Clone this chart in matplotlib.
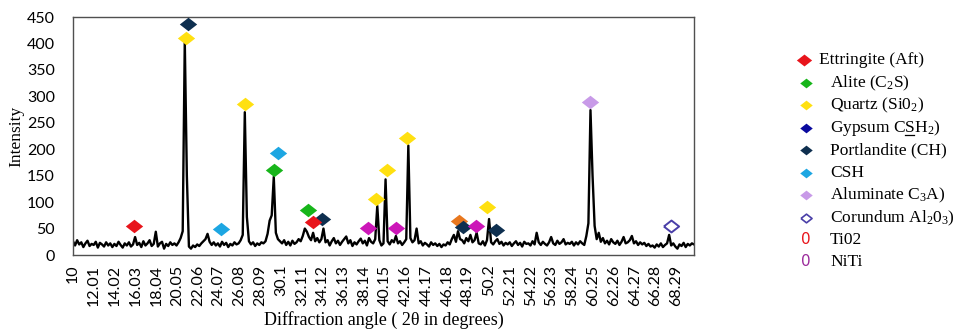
import numpy as np
import matplotlib
matplotlib.use("Agg")
import matplotlib.pyplot as plt

plt.rcParams['mathtext.fontset'] = 'custom'
plt.rcParams['mathtext.rm'] = 'Liberation Serif'
plt.rcParams['mathtext.it'] = 'Liberation Serif:italic'

# XRD trace, one value every 0.2 degrees from 10.0 to 70.0 (one row = 2 degrees)
intensity = [
    26, 18, 28, 20, 24, 15, 22, 27, 17, 21,     # 10
    19, 25, 14, 23, 20, 16, 24, 18, 22, 15,     # 12
    21, 17, 25, 19, 14, 22, 18, 24, 16, 20,     # 14
    34, 19, 23, 15, 26, 18, 22, 28, 17, 21,     # 16
    44, 16, 22, 25, 12, 21, 17, 24, 19, 22,     # 18
    18, 24, 32, 45, 405, 150, 16, 12, 18, 15,   # 20
    20, 17, 22, 26, 30, 40, 25, 19, 24, 18,     # 22
    22, 16, 25, 19, 23, 15, 21, 18, 24, 20,     # 24
    22, 28, 38, 270, 72, 26, 20, 24, 17, 22,    # 26
    19, 24, 22, 26, 40, 65, 75, 148, 42, 30,    # 28
    26, 22, 28, 19, 25, 18, 27, 21, 24, 30,     # 30
    26, 36, 50, 44, 34, 28, 42, 26, 32, 24,     # 32
    30, 50, 24, 28, 18, 26, 32, 22, 27, 19,     # 34
    25, 30, 35, 22, 28, 17, 24, 20, 26, 31,     # 36
    22, 27, 18, 32, 25, 22, 30, 93, 28, 18,     # 38
    22, 143, 26, 20, 28, 24, 36, 22, 26, 19,    # 40
    24, 30, 207, 32, 24, 28, 50, 22, 26, 18,    # 42
    23, 20, 16, 24, 19, 22, 17, 21, 15, 20,     # 44
    18, 24, 20, 30, 38, 25, 45, 30, 28, 22,     # 46
    32, 26, 38, 24, 28, 42, 22, 20, 26, 18,     # 48
    28, 68, 24, 20, 26, 30, 21, 25, 18, 23,     # 50
    20, 24, 17, 22, 26, 19, 23, 16, 25, 21,     # 52
    22, 18, 26, 20, 42, 24, 19, 25, 21, 18,     # 54
    24, 34, 22, 19, 27, 21, 24, 30, 20, 23,     # 56
    21, 25, 18, 24, 20, 26, 22, 19, 36, 60,     # 58
    274, 150, 55, 30, 42, 25, 32, 22, 27, 20,   # 60
    30, 24, 21, 27, 19, 25, 34, 22, 24, 28,     # 62
    36, 22, 26, 19, 24, 20, 23, 17, 21, 16,     # 64
    18, 14, 20, 16, 22, 15, 19, 22, 38, 18,     # 66
    22, 16, 12, 20, 17, 23, 15, 21, 18, 22,     # 68
    20,
]
angle = np.linspace(10.0, 70.0, len(intensity))

tick_labels = ['10', '12.01', '14.02', '16.03', '18.04', '20.05', '22.06', '24.07',
               '26.08', '28.09', '30.1', '32.11', '34.12', '36.13', '38.14', '40.15',
               '42.16', '44.17', '46.18', '48.19', '50.2', '52.21', '54.22', '56.23',
               '58.24', '60.25', '62.26', '64.27', '66.28', '68.29']

# phase markers (angle, intensity)
ettringite_x, ettringite_y = [15.9, 33.2], [55, 63]
alite_x, alite_y = [29.4, 32.7], [160, 85]
quartz_x, quartz_y = [20.9, 26.6, 39.3, 40.3, 42.3, 50.0], [410, 285, 106, 160, 222, 90]
portlandite_x, portlandite_y = [21.1, 34.1, 47.7, 50.9], [437, 68, 53, 47]
csh_x, csh_y = [24.3, 29.8], [50, 193]
aluminate_x, aluminate_y = [60.0], [290]
corundum_x, corundum_y = [67.8], [54]
niti_x, niti_y = [38.5, 41.2, 48.9], [52, 52, 55]
tio2_x, tio2_y = [47.3], [64]

diamond = [(-1, 0), (0, 0.78), (1, 0), (0, -0.78), (-1, 0)]

fig = plt.figure(figsize=(9.58, 3.31), dpi=100)
ax = fig.add_axes([0.0762, 0.2296, 0.6482, 0.719])

ax.plot(angle, intensity, color='black', lw=1.7, zorder=2)

def pts(x, y, color, z, ms=12.5, face=None, mew=0):
    ax.plot(x, y, ls='none', marker=diamond, ms=ms, color=color,
            mfc=face if face else color, mec=color, mew=mew, zorder=z, clip_on=False)

pts(tio2_x, tio2_y, '#E8771E', 3)
pts(portlandite_x, portlandite_y, '#0E2F4F', 4)
pts(alite_x, alite_y, '#17B51A', 4)
pts(ettringite_x, ettringite_y, '#E8141B', 5)
pts(quartz_x, quartz_y, '#FFE010', 5)
pts(csh_x, csh_y, '#1DA6E2', 5)
pts(aluminate_x, aluminate_y, '#C89AE8', 5)
pts(niti_x, niti_y, '#CC16B8', 5)
pts(corundum_x, corundum_y, '#4A3FA8', 5, ms=11, face='white', mew=1.4)

ax.set_xlim(10, 70)
ax.set_ylim(0, 450)
ax.set_yticks(np.arange(0, 451, 50))
ax.set_xticks([float(t) for t in tick_labels])
ax.set_xticklabels(tick_labels, rotation=90)
ax.tick_params(length=0, labelsize=11.5)
ax.tick_params(axis='x', pad=7)
ax.tick_params(axis='y', pad=13)
for lab in ax.get_xticklabels() + ax.get_yticklabels():
    lab.set_family('Lato')
for s in ax.spines.values():
    s.set_color('#505050')
    s.set_linewidth(1.0)

ax.set_xlabel('Diffraction angle ( 2θ in degrees)', family='Liberation Serif',
              fontsize=13, labelpad=4)
ax.set_ylabel('Intensity', family='Liberation Serif', fontsize=12.5, labelpad=2)

# legend drawn by hand in pixel coordinates
lax = fig.add_axes([0, 0, 1, 1])
lax.set_xlim(0, 958)
lax.set_ylim(331, 0)
lax.axis('off')

entries = [
    ('Ettringite (Aft)', '#E8141B', 'filled', 60),
    ('Alite (C$_2$S)', '#17B51A', 'filled', 83),
    ('Quartz (Si0$_2$)', '#FFE010', 'filled', 105),
    ('Gypsum CSH$_2$)', '#0A0A9E', 'filled', 128),
    ('Portlandite (CH)', '#0E2F4F', 'filled', 150),
    ('CSH', '#1DA6E2', 'filled', 173),
    ('Aluminate C$_3$A)', '#C89AE8', 'filled', 195),
    ('Corundum Al$_2$0$_3$)', '#4A3FA8', 'hollow', 218),
    ('Ti02', '#E8141B', 'zero', 240),
    ('NiTi', '#9B2A9B', 'zero', 262),
]
renderer = fig.canvas.get_renderer()
for i, (name, col, kind, yy) in enumerate(entries):
    mx = 804 if i == 0 else 806
    tx = 819 if i == 0 else 830
    if kind == 'filled':
        lax.plot([mx], [yy], marker=diamond, ms=11 if i == 0 else 9, color=col, mew=0)
    elif kind == 'hollow':
        lax.plot([mx], [yy], marker=diamond, ms=8, mfc='white', mec=col, mew=1.2)
    else:
        lax.text(mx, yy, '0', color=col, fontsize=11, ha='center', va='center',
                 family='DejaVu Sans')
    t = lax.text(tx, yy, name, fontsize=12.5, va='center', family='Liberation Serif')
    if i == 3:
        # underline the S of CSH2
        inv = lax.transData.inverted()
        a = lax.text(tx, yy, 'Gypsum C', fontsize=12.5, va='center',
                     family='Liberation Serif', alpha=0)
        b = lax.text(tx, yy, 'Gypsum CS', fontsize=12.5, va='center',
                     family='Liberation Serif', alpha=0)
        xa = inv.transform((a.get_window_extent(renderer).x1, 0))[0]
        xb = inv.transform((b.get_window_extent(renderer).x1, 0))[0]
        lax.plot([xa + 0.5, xb - 0.5], [yy + 7, yy + 7], color='black', lw=0.9)

fig.savefig('out.png', dpi=100)
